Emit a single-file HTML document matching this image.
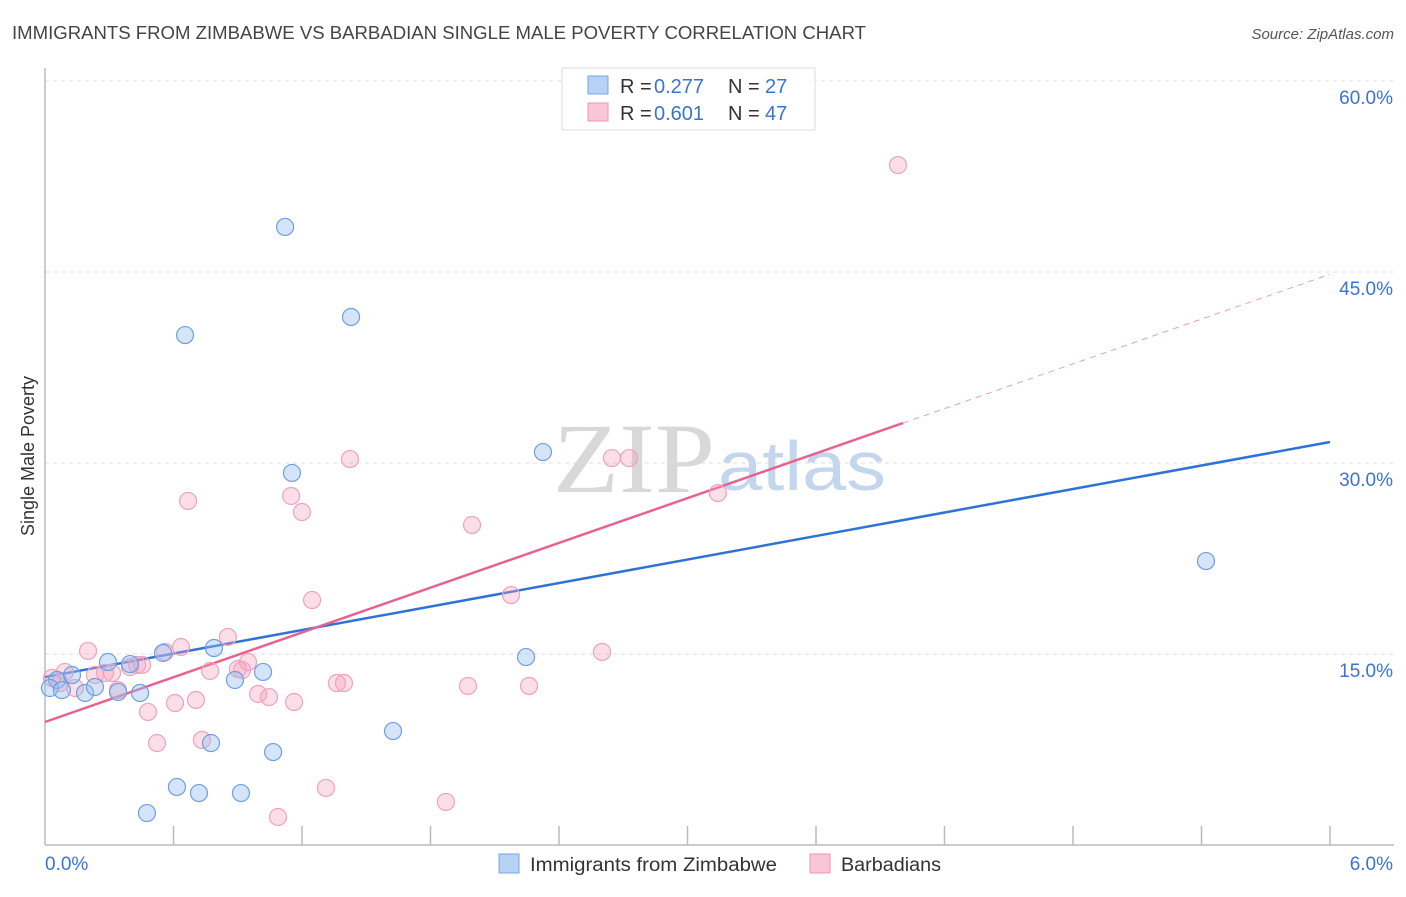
<!DOCTYPE html>
<html><head><meta charset="utf-8"><style>
body{margin:0;background:#fff;font-family:"Liberation Sans",sans-serif;}
</style></head><body>
<svg id="chart" width="1406" height="892" xmlns="http://www.w3.org/2000/svg" font-family="Liberation Sans,sans-serif">
<text x="12" y="39" font-size="18" fill="#444" textLength="854" lengthAdjust="spacingAndGlyphs">IMMIGRANTS FROM ZIMBABWE VS BARBADIAN SINGLE MALE POVERTY CORRELATION CHART</text>
<text x="1394" y="39" font-size="15" fill="#555" font-style="italic" text-anchor="end">Source: ZipAtlas.com</text>
<g>
<text x="553" y="492" font-size="100" fill="#d8d8d8" style="font-family:'Liberation Serif',serif" textLength="162" lengthAdjust="spacingAndGlyphs">ZIP</text>
<text x="718" y="490" font-size="70" fill="#c4d6ee" textLength="168" lengthAdjust="spacingAndGlyphs">atlas</text>
</g>
<g id="grid"></g>
<g id="axes"></g>
<g id="trends"></g>
<g id="pts"></g>
<text transform="translate(34,456) rotate(-90)" font-size="18" fill="#333" text-anchor="middle">Single Male Poverty</text>
<g>
<rect x="562" y="68" width="253" height="62" fill="#fff" stroke="#ddd"/>
<rect x="588" y="76" width="20" height="18" fill="#b7d2f5" stroke="#7aa7e0"/>
<rect x="588" y="103" width="20" height="18" fill="#f9c6d6" stroke="#eb95b5"/>
<text x="620" y="93" font-size="20" fill="#333">R =</text>
<text x="654" y="93" font-size="20" fill="#3b73d1">0.277</text>
<text x="728" y="93" font-size="20" fill="#333">N =</text>
<text x="765" y="93" font-size="20" fill="#3b73d1">27</text>
<text x="620" y="120" font-size="20" fill="#333">R =</text>
<text x="654" y="120" font-size="20" fill="#3b73d1">0.601</text>
<text x="728" y="120" font-size="20" fill="#333">N =</text>
<text x="765" y="120" font-size="20" fill="#3b73d1">47</text>
</g>
<g>
<rect x="499" y="854" width="20" height="19" fill="#b7d2f5" stroke="#7aa7e0"/>
<text x="530" y="871" font-size="19" fill="#333" textLength="247" lengthAdjust="spacingAndGlyphs">Immigrants from Zimbabwe</text>
<rect x="810" y="854" width="20" height="19" fill="#f9c6d6" stroke="#eb95b5"/>
<text x="841" y="871" font-size="19" fill="#333" textLength="100" lengthAdjust="spacingAndGlyphs">Barbadians</text>
</g>
</svg>
<script>
const yTicks=[15,30,45,60];
const yTickLabels=["15.0%","30.0%","45.0%","60.0%"];
const xTickLabels=["0.0%","6.0%"];
const blueX=[0.056,0.023,0.079,0.126,0.187,0.233,0.294,0.341,0.397,0.444,0.551,0.654,0.789,0.887,1.018,1.121,1.153,1.429,0.616,0.719,0.476,0.915,0.775,1.065,1.625,2.246,2.325,5.421];
const blueY=[12.96,12.33,12.17,13.35,11.94,12.41,14.37,12.02,14.21,11.94,15.08,40.05,15.47,12.96,13.59,48.54,29.22,41.47,4.56,4.08,2.51,4.08,8.01,7.30,8.95,14.76,30.86,22.30];
const pinkX=[0.033,0.070,0.093,0.140,0.201,0.233,0.280,0.313,0.341,0.397,0.430,0.453,0.481,0.523,0.560,0.607,0.635,0.668,0.705,0.733,0.771,0.854,0.901,0.920,0.948,0.995,1.046,1.088,1.149,1.163,1.200,1.247,1.312,1.363,1.396,1.424,1.872,1.975,1.994,2.176,2.260,2.601,2.647,2.727,3.142,3.983];
const pinkY=[13.12,12.72,13.59,12.33,15.24,13.35,13.51,13.51,12.17,13.98,14.14,14.14,10.45,8.01,15.16,11.15,15.55,27.02,11.39,8.25,13.67,16.34,13.82,13.74,14.37,11.86,11.62,2.20,27.41,11.23,26.15,19.24,4.48,12.72,12.72,30.31,3.38,12.49,25.13,19.63,12.49,15.16,30.39,30.39,27.64,53.40];
const blueTrend=[13.19,31.65];
const pinkTrend=[9.66,5.86];
const X0=45,X1=1330,Y0=845;
const xs=v=>X0+v*(X1-X0)/6;
const ys=v=>Y0-v*12.733;
const NS="http://www.w3.org/2000/svg";
function mk(tag,attrs,parent){const e=document.createElementNS(NS,tag);for(const k in attrs)e.setAttribute(k,attrs[k]);parent.appendChild(e);return e;}
const grid=document.getElementById('grid'),axes=document.getElementById('axes');
yTicks.forEach((t,i)=>{
 const l=mk('line',{x1:X0,x2:1394,y1:ys(t),y2:ys(t),stroke:'#ddd','stroke-dasharray':'4,4'},grid);
 
 
 const tx=mk('text',{x:1393,y:ys(t)+23,'font-size':19,fill:'#3b73d1','text-anchor':'end'},axes);
 tx.textContent=yTickLabels[i];
 
 
});
mk('line',{x1:X0,x2:X0,y1:68,y2:Y0,stroke:'#bbb','stroke-width':1.5},axes);
mk('line',{x1:X0,x2:1394,y1:Y0,y2:Y0,stroke:'#bbb','stroke-width':1.5},axes);
for(let i=1;i<=10;i++){const x=xs(i*0.6);mk('line',{x1:x,x2:x,y1:Y0-19,y2:Y0,stroke:'#bbb','stroke-width':1.5},axes);}
[[0,'start',45],[6,'end',1393]].forEach((a,i)=>{
 const t=mk('text',{x:a[2],y:870,'font-size':19,fill:'#3b73d1','text-anchor':a[1]},axes);
 t.textContent=xTickLabels[i];
 
 
});
const tr=document.getElementById('trends');
const b=mk('line',{x1:xs(0),y1:ys(blueTrend[0]),x2:xs(6),y2:ys(blueTrend[1]),stroke:'#2f72d6','stroke-width':2.5},tr);


const pe=4.006;
const p=mk('line',{x1:xs(0),y1:ys(pinkTrend[0]),x2:xs(pe),y2:ys(pinkTrend[0]+pinkTrend[1]*pe),stroke:'#e8628f','stroke-width':2.5},tr);


const pd=mk('line',{x1:xs(pe),y1:ys(pinkTrend[0]+pinkTrend[1]*pe),x2:xs(6),y2:ys(pinkTrend[0]+pinkTrend[1]*6),stroke:'#e8a0b8','stroke-width':1,'stroke-dasharray':'6,5'},tr);


const pts=document.getElementById('pts');
pinkX.forEach((x,i)=>{const c=mk('circle',{cx:xs(x),cy:ys(pinkY[i]),r:8.5,fill:'rgba(245,160,190,0.35)',stroke:'#eea3bd','stroke-width':1.2},pts);
 
 });
blueX.forEach((x,i)=>{const c=mk('circle',{cx:xs(x),cy:ys(blueY[i]),r:8.5,fill:'rgba(150,190,240,0.4)',stroke:'#6f9fe0','stroke-width':1.2},pts);
 
 });
</script>
</body></html>
